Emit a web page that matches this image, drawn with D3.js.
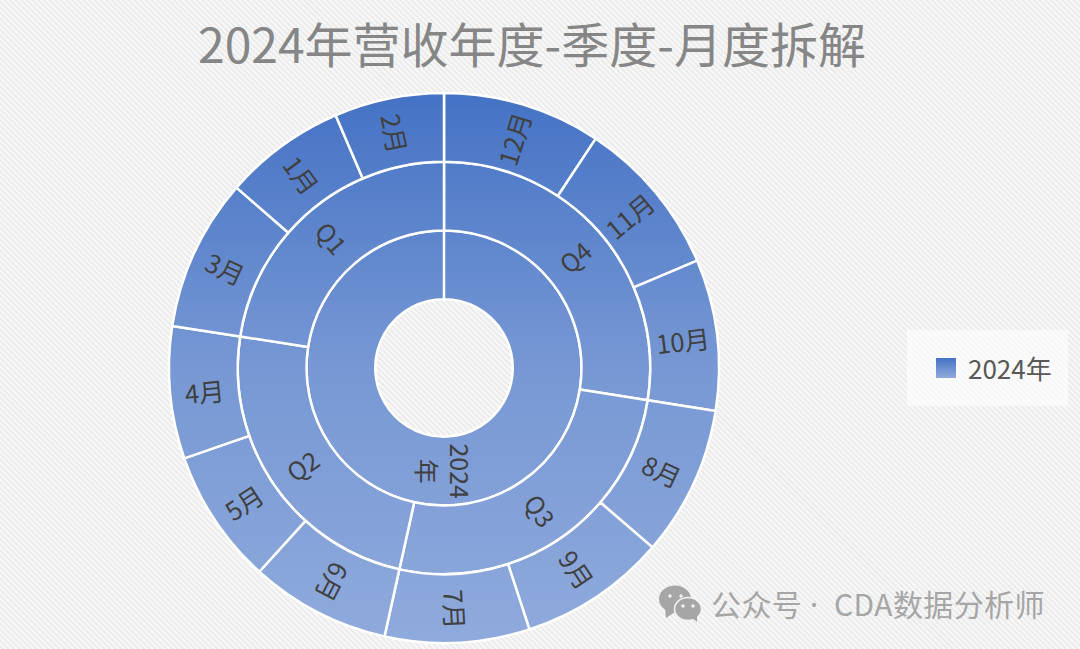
<!DOCTYPE html>
<html>
<head>
<meta charset="utf-8">
<script src="https://cdn.jsdelivr.net/npm/d3@7"></script>
<style>
  html, body { margin: 0; padding: 0; background: #fff; }
  svg { display: block; }
  text { font-family: "Noto Sans CJK SC", "Noto Sans", sans-serif; }
</style>
</head>
<body>
<div id="chart"></div>
<script>
// order is clockwise from 12 o'clock
const yearName = ['2024', '年'];
const quarters = ['Q4', 'Q3', 'Q2', 'Q1'];
const quarterMonths = [
  ['12月', '11月', '10月'],
  ['8月', '9月', '7月'],
  ['6月', '5月', '4月'],
  ['3月', '1月', '2月']
];
const monthValues = [
  [33.5, 33.5, 32],
  [31.7, 31.2, 30.6],
  [29.7, 28.6, 28],
  [32.2, 25.8, 23.2]
];
const legendLabel = '2024年';
const title = '2024年营收年度-季度-月度拆解';
const watermark = ['公众号', '·', 'CDA数据分析师'];

const width = 1080, height = 649;
const cx = 444, cy = 368, outer = 275;

const svg = d3.select('#chart').append('svg')
  .attr('width', width)
  .attr('height', height);

const defs = svg.append('defs');

// striped backdrop
const stripes = defs.append('pattern')
  .attr('id', 'stripes')
  .attr('width', 4).attr('height', 4)
  .attr('patternUnits', 'userSpaceOnUse')
  .attr('patternTransform', 'rotate(45)');
stripes.append('rect').attr('width', 4).attr('height', 4).attr('fill', '#f8f8f8');
stripes.append('rect').attr('width', 4).attr('height', 2).attr('fill', '#ebebeb');

// one gradient over the whole ring stack
const fill = defs.append('linearGradient')
  .attr('id', 'ringFill')
  .attr('gradientUnits', 'userSpaceOnUse')
  .attr('x1', 0).attr('x2', 0)
  .attr('y1', -outer).attr('y2', outer);
fill.append('stop').attr('offset', '0%').attr('stop-color', '#4472c4');
fill.append('stop').attr('offset', '50%').attr('stop-color', '#7798d4');
fill.append('stop').attr('offset', '100%').attr('stop-color', '#8faadc');

const swatchFill = defs.append('linearGradient')
  .attr('id', 'swatchFill')
  .attr('x1', 0).attr('x2', 0).attr('y1', 0).attr('y2', 1);
swatchFill.append('stop').attr('offset', '0%').attr('stop-color', '#4472c4');
swatchFill.append('stop').attr('offset', '100%').attr('stop-color', '#8faadc');

svg.append('rect')
  .attr('width', width).attr('height', height)
  .attr('fill', 'url(#stripes)');

svg.append('text')
  .attr('x', 532).attr('y', 63)
  .attr('text-anchor', 'middle')
  .attr('font-size', 48)
  .attr('fill', '#868686')
  .text(title);

// hierarchy: hole > year > quarter > month
const tree = {
  name: 'root',
  children: [{
    name: yearName,
    children: quarters.map((q, i) => ({
      name: q,
      children: quarterMonths[i].map((m, j) => ({ name: m, value: monthValues[i][j] }))
    }))
  }]
};
const root = d3.hierarchy(tree).sum(d => d.value || 0);
d3.partition().size([2 * Math.PI, outer])(root);
const nodes = root.descendants().filter(d => d.depth > 0);

const arc = d3.arc()
  .startAngle(d => d.x0)
  .endAngle(d => d.depth === 1 ? d.x1 - 1e-4 : d.x1) // keeps the seam of the closed year ring
  .innerRadius(d => d.y0)
  .outerRadius(d => d.y1);

const g = svg.append('g').attr('transform', `translate(${cx},${cy})`);

g.selectAll('path.seg')
  .data(nodes)
  .enter()
  .append('path')
    .attr('class', 'seg')
    .attr('d', arc)
    .attr('fill', 'url(#ringFill)')
    .attr('stroke', '#fff')
    .attr('stroke-width', 2.5)
    .attr('stroke-linejoin', 'round');

// radial labels, turned over on the left side
const labels = g.selectAll('g.lab')
  .data(nodes)
  .enter()
  .append('g')
    .attr('class', 'lab')
    .attr('transform', d => {
      const a = (d.x0 + d.x1) / 2;
      const r = (d.y0 + d.y1) / 2;
      const deg = a * 180 / Math.PI;
      const rot = deg >= 220 ? deg - 270 : deg - 90;
      const dy = d.depth === 3 ? 1 : 0;
      return `translate(${r * Math.sin(a)},${-r * Math.cos(a) + dy}) rotate(${rot})`;
    });

labels.each(function (d) {
  const lines = Array.isArray(d.data.name) ? d.data.name : [d.data.name];
  const lineH = 33;
  d3.select(this).selectAll('text')
    .data(lines)
    .enter()
    .append('text')
      .attr('text-anchor', 'middle')
      .attr('dominant-baseline', 'central')
      .attr('y', (t, i) => (i - (lines.length - 1) / 2) * lineH)
      .attr('font-size', d.depth === 3 ? 25.5 : 25)
      .attr('fill', '#404040')
      .text(t => t);
});

// legend
const legend = svg.append('g');
legend.append('rect')
  .attr('x', 907).attr('y', 330)
  .attr('width', 161).attr('height', 76)
  .attr('fill', '#fff').attr('fill-opacity', 0.6);
legend.append('rect')
  .attr('x', 936).attr('y', 358)
  .attr('width', 20).attr('height', 20)
  .attr('fill', 'url(#swatchFill)');
legend.append('text')
  .attr('x', 968).attr('y', 379)
  .attr('font-size', 26)
  .attr('fill', '#595959')
  .text(legendLabel);

// watermark
const mark = svg.append('g').attr('fill', '#a6a6a6');
mark.append('ellipse').attr('cx', 675).attr('cy', 599).attr('rx', 16).attr('ry', 13.5);
mark.append('path').attr('d', 'M665 608 L666 618 L675 612 Z');
mark.append('ellipse').attr('cx', 688).attr('cy', 609)
  .attr('rx', 13.5).attr('ry', 11.5)
  .attr('stroke', '#f3f3f3').attr('stroke-width', 1.5);
mark.append('path').attr('d', 'M692 618 L697 622 L697 615 Z');
[[670, 596], [681, 596], [683, 606], [693, 606]].forEach(p => {
  mark.append('circle').attr('cx', p[0]).attr('cy', p[1]).attr('r', 1.7).attr('fill', '#f3f3f3');
});
const wmText = svg.append('text')
  .attr('y', 616)
  .attr('font-size', 30)
  .attr('letter-spacing', 0.4)
  .attr('fill', '#a6a6a6');
wmText.selectAll('tspan')
  .data(watermark)
  .enter()
  .append('tspan')
    .attr('x', (t, i) => [711, 810, 834][i])
    .style('font-family', (t, i) => i === 1 ? '"Noto Sans"' : null)
    .text(t => t);
</script>
</body>
</html>
